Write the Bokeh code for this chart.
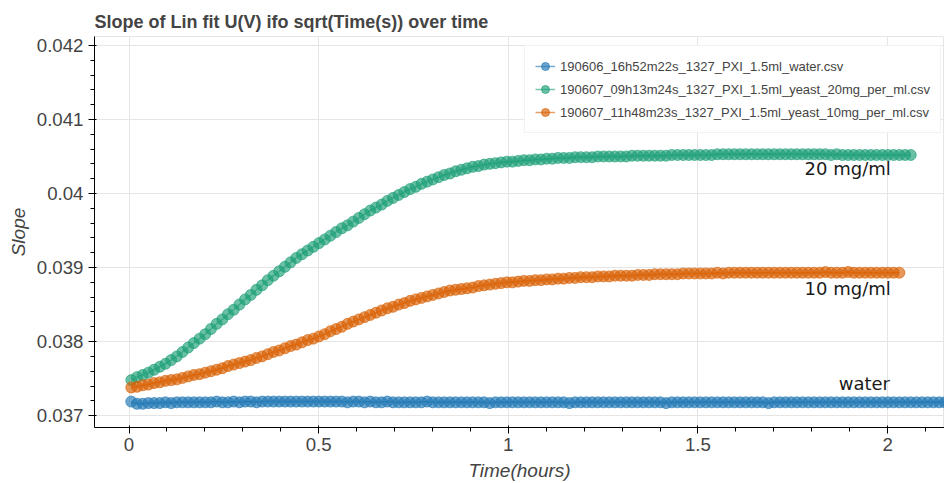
from bokeh.plotting import figure
from bokeh.models import Range1d
from bokeh.core.properties import value
from bokeh.embed import file_html
from bokeh.resources import INLINE

# ---------------- data ----------------
TIME_H = [
    0.006, 0.021, 0.036, 0.051, 0.066, 0.081, 0.096, 0.111, 0.126, 0.141,
    0.156, 0.171, 0.186, 0.201, 0.216, 0.231, 0.246, 0.261, 0.276, 0.291,
    0.306, 0.321, 0.336, 0.351, 0.366, 0.381, 0.396, 0.411, 0.426, 0.441,
    0.456, 0.471, 0.486, 0.501, 0.516, 0.531, 0.546, 0.561, 0.576, 0.591,
    0.606, 0.621, 0.636, 0.651, 0.666, 0.681, 0.696, 0.711, 0.726, 0.741,
    0.756, 0.771, 0.786, 0.801, 0.816, 0.831, 0.846, 0.861, 0.876, 0.891,
    0.906, 0.921, 0.936, 0.951, 0.966, 0.981, 0.996, 1.011, 1.026, 1.041,
    1.056, 1.071, 1.086, 1.101, 1.116, 1.131, 1.146, 1.161, 1.176, 1.191,
    1.206, 1.221, 1.236, 1.251, 1.266, 1.281, 1.296, 1.311, 1.326, 1.341,
    1.356, 1.371, 1.386, 1.401, 1.416, 1.431, 1.446, 1.461, 1.476, 1.491,
    1.506, 1.521, 1.536, 1.551, 1.566, 1.581, 1.596, 1.611, 1.626, 1.641,
    1.656, 1.671, 1.686, 1.701, 1.716, 1.731, 1.746, 1.761, 1.776, 1.791,
    1.806, 1.821, 1.836, 1.851, 1.866, 1.881, 1.896, 1.911, 1.926, 1.941,
    1.956, 1.971, 1.986, 2.001, 2.016, 2.031, 2.046, 2.061, 2.076, 2.091,
    2.106, 2.121, 2.136, 2.151, 2.166, 2.181, 2.196,
]

SLOPE_WATER = [
    0.03719, 0.03716, 0.03716, 0.03717, 0.03717, 0.03717, 0.03718, 0.03717, 0.03718, 0.03718,
    0.03718, 0.03718, 0.03718, 0.03718, 0.03718, 0.03719, 0.03718, 0.03718, 0.03719, 0.03718,
    0.03719, 0.03719, 0.03718, 0.03719, 0.03719, 0.03719, 0.03719, 0.03719, 0.03719, 0.03719,
    0.03719, 0.03719, 0.03719, 0.03719, 0.03719, 0.03719, 0.03719, 0.03719, 0.03718, 0.03719,
    0.03719, 0.03718, 0.03719, 0.03718, 0.03718, 0.03719, 0.03718, 0.03718, 0.03718, 0.03718,
    0.03718, 0.03718, 0.03719, 0.03718, 0.03718, 0.03718, 0.03718, 0.03718, 0.03718, 0.03718,
    0.03718, 0.03718, 0.03718, 0.03717, 0.03718, 0.03718, 0.03718, 0.03718, 0.03718, 0.03718,
    0.03718, 0.03718, 0.03718, 0.03718, 0.03718, 0.03718, 0.03718, 0.03717, 0.03718, 0.03718,
    0.03718, 0.03718, 0.03718, 0.03718, 0.03718, 0.03718, 0.03718, 0.03718, 0.03718, 0.03718,
    0.03718, 0.03718, 0.03718, 0.03718, 0.03717, 0.03718, 0.03718, 0.03718, 0.03718, 0.03718,
    0.03718, 0.03718, 0.03718, 0.03718, 0.03718, 0.03718, 0.03718, 0.03718, 0.03718, 0.03718,
    0.03718, 0.03718, 0.03717, 0.03718, 0.03718, 0.03718, 0.03718, 0.03718, 0.03718, 0.03718,
    0.03718, 0.03718, 0.03718, 0.03718, 0.03718, 0.03718, 0.03718, 0.03718, 0.03718, 0.03718,
    0.03718, 0.03718, 0.03718, 0.03718, 0.03718, 0.03718, 0.03718, 0.03718, 0.03718, 0.03718,
    0.03718, 0.03718, 0.03718, 0.03718, 0.03718, 0.03718, 0.03718,
]

SLOPE_20MG = [
    0.03748, 0.03752, 0.03755, 0.03758, 0.03762, 0.03766, 0.03770, 0.03775, 0.03780, 0.03786,
    0.03792, 0.03798, 0.03804, 0.03810, 0.03817, 0.03824, 0.03830, 0.03837, 0.03843, 0.03850,
    0.03857, 0.03863, 0.03870, 0.03876, 0.03883, 0.03889, 0.03895, 0.03901, 0.03907, 0.03913,
    0.03918, 0.03923, 0.03928, 0.03933, 0.03938, 0.03943, 0.03948, 0.03953, 0.03957, 0.03962,
    0.03967, 0.03972, 0.03977, 0.03981, 0.03985, 0.03990, 0.03994, 0.03998, 0.04002, 0.04006,
    0.04009, 0.04013, 0.04016, 0.04019, 0.04022, 0.04025, 0.04027, 0.04030, 0.04032, 0.04034,
    0.04036, 0.04037, 0.04039, 0.04040, 0.04041, 0.04042, 0.04043, 0.04043, 0.04044, 0.04045,
    0.04045, 0.04046, 0.04046, 0.04047, 0.04047, 0.04048, 0.04048, 0.04048, 0.04049, 0.04049,
    0.04049, 0.04049, 0.04050, 0.04050, 0.04050, 0.04050, 0.04050, 0.04050, 0.04051, 0.04051,
    0.04051, 0.04051, 0.04051, 0.04051, 0.04051, 0.04052, 0.04052, 0.04052, 0.04052, 0.04052,
    0.04052, 0.04052, 0.04052, 0.04053, 0.04053, 0.04053, 0.04053, 0.04053, 0.04053, 0.04053,
    0.04053, 0.04053, 0.04053, 0.04053, 0.04053, 0.04053, 0.04053, 0.04053, 0.04053, 0.04053,
    0.04053, 0.04053, 0.04053, 0.04052, 0.04053, 0.04052, 0.04052, 0.04052, 0.04052, 0.04052,
    0.04052, 0.04052, 0.04052, 0.04052, 0.04052, 0.04052, 0.04052, 0.04052,
]

SLOPE_10MG = [
    0.03738, 0.03739, 0.03741, 0.03742, 0.03744, 0.03745, 0.03747, 0.03748, 0.03749, 0.03751,
    0.03753, 0.03755, 0.03756, 0.03758, 0.03760, 0.03762, 0.03764, 0.03767, 0.03769, 0.03771,
    0.03773, 0.03775, 0.03778, 0.03780, 0.03783, 0.03786, 0.03788, 0.03791, 0.03794, 0.03796,
    0.03799, 0.03802, 0.03804, 0.03807, 0.03810, 0.03814, 0.03817, 0.03820, 0.03824, 0.03827,
    0.03830, 0.03833, 0.03836, 0.03839, 0.03842, 0.03845, 0.03847, 0.03850, 0.03852, 0.03855,
    0.03857, 0.03859, 0.03861, 0.03863, 0.03865, 0.03867, 0.03869, 0.03870, 0.03871, 0.03872,
    0.03873, 0.03875, 0.03876, 0.03877, 0.03878, 0.03879, 0.03880, 0.03880, 0.03881, 0.03882,
    0.03882, 0.03883, 0.03883, 0.03884, 0.03884, 0.03885, 0.03885, 0.03886, 0.03886, 0.03887,
    0.03887, 0.03887, 0.03888, 0.03888, 0.03888, 0.03889, 0.03889, 0.03889, 0.03889, 0.03890,
    0.03890, 0.03890, 0.03891, 0.03891, 0.03891, 0.03891, 0.03891, 0.03892, 0.03892, 0.03892,
    0.03892, 0.03892, 0.03892, 0.03893, 0.03892, 0.03893, 0.03893, 0.03893, 0.03893, 0.03893,
    0.03893, 0.03893, 0.03893, 0.03893, 0.03893, 0.03893, 0.03893, 0.03893, 0.03893, 0.03893,
    0.03893, 0.03893, 0.03894, 0.03893, 0.03893, 0.03893, 0.03894, 0.03893, 0.03893, 0.03893,
    0.03893, 0.03893, 0.03893, 0.03893, 0.03893, 0.03893,
]

SERIES_NAMES = [
    "190606_16h52m22s_1327_PXI_1.5ml_water.csv",
    "190607_09h13m24s_1327_PXI_1.5ml_yeast_20mg_per_ml.csv",
    "190607_11h48m23s_1327_PXI_1.5ml_yeast_10mg_per_ml.csv",
]
SERIES_VALUES = [SLOPE_WATER, SLOPE_20MG, SLOPE_10MG]
SERIES_COLORS = ["#1f77b4", "#1b9e77", "#d95f02"]

LABEL_TEXTS = ["20 mg/ml", "10 mg/ml", "water"]

# ---------------- figure ----------------
p = figure(
    width=944, height=483,
    output_backend="svg", toolbar_location=None,
    x_range=Range1d(-0.091, 2.150), y_range=Range1d(0.03684, 0.04212),
    title="Slope of Lin fit U(V) ifo sqrt(Time(s)) over time",
    x_axis_label="Time(hours)", y_axis_label="Slope",
    min_border_left=94, min_border_right=0, min_border_top=36, min_border_bottom=0,
)

p.title.text_font_size = "18px"
p.title.text_color = "#444444"
p.title.standoff = 10

for axis in (p.xaxis, p.yaxis):
    axis.major_label_text_font_size = "14pt"
    axis.major_label_text_color = "#444444"
    axis.axis_label_text_color = "#444444"
    axis.axis_label_text_font_size = "19px"
p.xaxis.axis_label_standoff = 6
p.xaxis.major_label_standoff = 4

for name, vals, col in zip(SERIES_NAMES, SERIES_VALUES, SERIES_COLORS):
    xs = TIME_H[:len(vals)]
    p.line(xs, vals, line_color=col, line_alpha=0.6, line_width=1.5, legend_label=name)
    p.scatter(xs, vals, size=11, fill_color=col, line_color=col,
              fill_alpha=0.65, line_alpha=0.65, legend_label=name)

p.text(x=[1.781, 1.781, 1.871], y=[0.040333, 0.038720, 0.037433], text=LABEL_TEXTS,
       text_font=value("DejaVu Sans"), text_font_size="18px",
       text_color="#1a1a1a", text_baseline="alphabetic", text_align="left")

p.legend.location = (430, 294)
p.legend.label_text_font_size = "13px"
p.legend.label_text_color = "#444444"
p.legend.background_fill_alpha = 0.95

open("out.html", "w").write(file_html(p, INLINE))
